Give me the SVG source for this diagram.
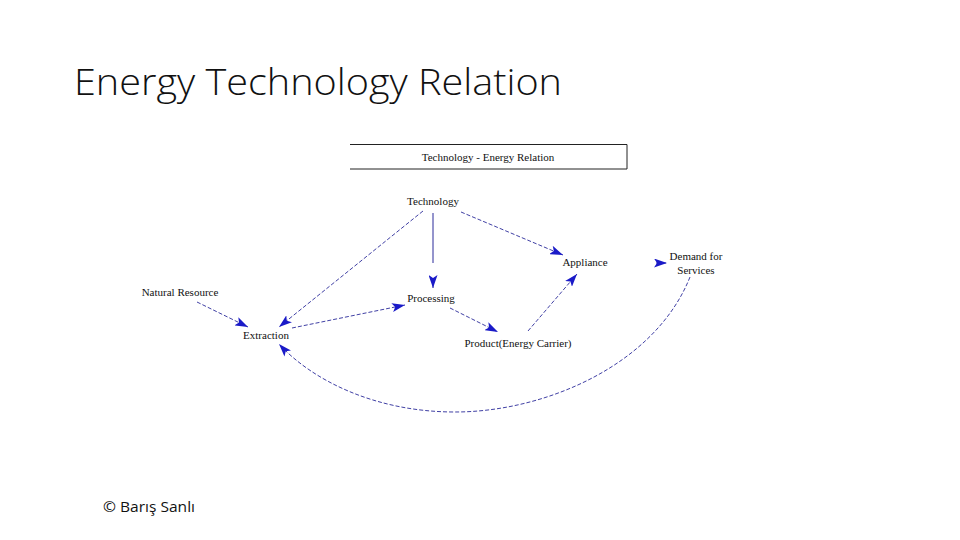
<svg xmlns="http://www.w3.org/2000/svg" width="960" height="540" viewBox="0 0 960 540">
<defs>
<marker id="ah" markerUnits="userSpaceOnUse" markerWidth="13" markerHeight="9" refX="13" refY="4.5" orient="auto">
<path d="M0,0 L13,4.5 L0,9 L3,4.5 z" fill="#1a1ac8"/>
</marker>
<style>
.lbl{font-family:"Liberation Serif","Times New Roman",serif;font-size:11px;fill:#111}
.c{fill:none;stroke:#2a2a9a;stroke-width:0.9;stroke-dasharray:4 2}
</style>
</defs>
<rect width="960" height="540" fill="#fff"/>
<text x="74" y="95" font-family="'Open Sans','Noto Sans',sans-serif" font-weight="300" font-size="37" textLength="488" lengthAdjust="spacingAndGlyphs" fill="#111">Energy Technology Relation</text>
<g id="header">
<path d="M350,144.5 H627 V169 H350" fill="none" stroke="#222" stroke-width="1"/>
<text class="lbl" x="488" y="161" text-anchor="middle">Technology - Energy Relation</text>
</g>
<g id="connectors">
<path class="c" d="M423,211 L279,327" marker-end="url(#ah)"/>
<path d="M433,213 V288" fill="none" stroke="#2a2a9a" stroke-width="1" stroke-dasharray="50 17 8" marker-end="url(#ah)"/>
<path class="c" d="M461,212 L563,255" marker-end="url(#ah)"/>
<path class="c" d="M197,302 L248,327" marker-end="url(#ah)"/>
<path class="c" d="M292,328 L405,305" marker-end="url(#ah)"/>
<path class="c" d="M450,308 L498,332" marker-end="url(#ah)"/>
<path class="c" d="M528,331 L577,274" marker-end="url(#ah)"/>
<path class="c" d="M656,263 L667,263" marker-end="url(#ah)"/>
<path class="c" d="M690,277 C655,365 545,412 455,412 C375,412 312,380 279,344" marker-end="url(#ah)"/>
</g>
<g id="technology"><text class="lbl" x="433" y="205" text-anchor="middle">Technology</text></g>
<g id="natural-resource"><text class="lbl" x="180" y="296" text-anchor="middle">Natural Resource</text></g>
<g id="extraction"><text class="lbl" x="266" y="339" text-anchor="middle">Extraction</text></g>
<g id="processing"><text class="lbl" x="431" y="302" text-anchor="middle">Processing</text></g>
<g id="appliance"><text class="lbl" x="585" y="266" text-anchor="middle">Appliance</text></g>
<g id="demand"><text class="lbl" x="696" y="260" text-anchor="middle">Demand for</text><text class="lbl" x="696" y="274" text-anchor="middle">Services</text></g>
<g id="product"><text class="lbl" x="518" y="347" text-anchor="middle">Product(Energy Carrier)</text></g>
<text x="103" y="512" font-family="'Open Sans','Noto Sans',sans-serif" font-size="14" textLength="92" lengthAdjust="spacingAndGlyphs" fill="#111">© Barış Sanlı</text>
</svg>
